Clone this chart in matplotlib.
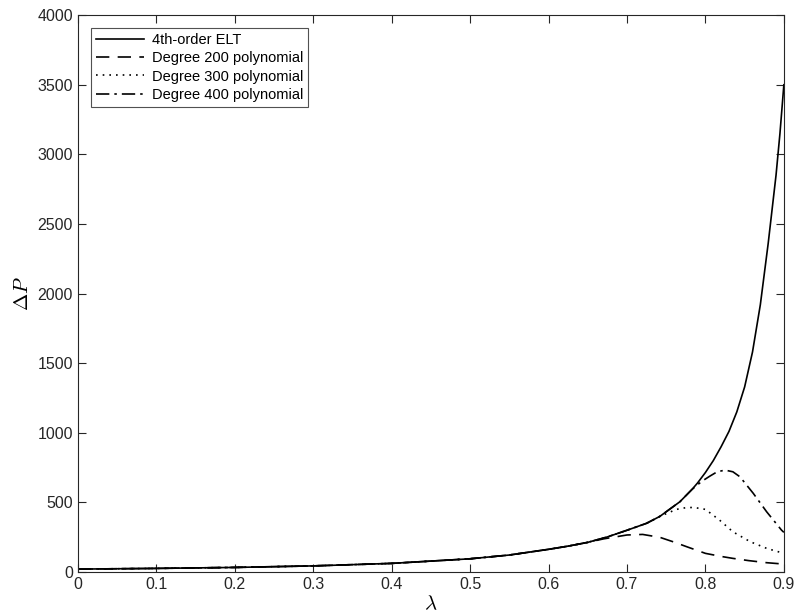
import matplotlib
matplotlib.use('Agg')
import matplotlib.pyplot as plt

# values
lam_elt = [0, 0.1, 0.2, 0.3, 0.4, 0.5, 0.55, 0.6, 0.625, 0.65, 0.675, 0.7, 0.725,
           0.742, 0.7675, 0.783, 0.79, 0.8, 0.81, 0.82, 0.83, 0.84, 0.85, 0.86,
           0.87, 0.88, 0.89, 0.895, 0.9]
dp_elt = [21, 26, 33, 44, 62, 95, 122, 163, 186, 213, 252, 300, 350,
          400, 505, 594, 640, 715, 800, 900, 1010, 1150, 1330, 1580,
          1920, 2360, 2850, 3150, 3500]

lam_200 = [0, 0.1, 0.2, 0.3, 0.4, 0.5, 0.55, 0.6, 0.625, 0.65, 0.67, 0.7, 0.72,
           0.742, 0.76, 0.776, 0.8, 0.82, 0.835, 0.855, 0.878, 0.9]
dp_200 = [21, 26, 33, 44, 62, 95, 122, 163, 186, 213, 238, 266, 270,
          249, 215, 182, 134, 112, 98, 82, 67, 57]

lam_300 = [0, 0.1, 0.2, 0.3, 0.4, 0.5, 0.55, 0.6, 0.625, 0.65, 0.675, 0.7, 0.725,
           0.742, 0.763, 0.775, 0.785, 0.8, 0.818, 0.835, 0.857, 0.878, 0.9]
dp_300 = [21, 26, 33, 44, 62, 95, 122, 163, 186, 213, 252, 300, 350,
          400, 450, 462, 464, 450, 373, 289, 218, 170, 134]

lam_400 = [0, 0.1, 0.2, 0.3, 0.4, 0.5, 0.55, 0.6, 0.625, 0.65, 0.675, 0.7, 0.725,
           0.742, 0.7675, 0.783, 0.795, 0.806, 0.815, 0.825, 0.835, 0.844, 0.861,
           0.878, 0.897, 0.9]
dp_400 = [21, 26, 33, 44, 62, 95, 122, 163, 186, 213, 252, 300, 350,
          400, 505, 594, 650, 690, 720, 732, 720, 684, 565,
          433, 301, 285]

plt.rcParams['font.family'] = ['Liberation Sans', 'DejaVu Sans']
plt.rcParams['mathtext.fontset'] = 'cm'

fig = plt.figure(figsize=(7.95, 6.16), dpi=100)
ax = fig.add_axes([0.098, 0.0714, 0.888, 0.904])

ax.plot(lam_elt, dp_elt, color='black', lw=1.2, ls='-', label='4th-order ELT')
ax.plot(lam_200, dp_200, color='black', lw=1.2, ls=(0, (8, 5)), label='Degree 200 polynomial')
ax.plot(lam_300, dp_300, color='black', lw=1.2, ls=(0, (1, 3)), label='Degree 300 polynomial')
ax.plot(lam_400, dp_400, color='black', lw=1.2, ls=(0, (8, 3, 1.5, 3)), label='Degree 400 polynomial')

ax.set_xlim(0, 0.9)
ax.set_ylim(0, 4000)
ax.set_xticks([0, 0.1, 0.2, 0.3, 0.4, 0.5, 0.6, 0.7, 0.8, 0.9])
ax.set_xticklabels(['0', '0.1', '0.2', '0.3', '0.4', '0.5', '0.6', '0.7', '0.8', '0.9'])
ax.set_yticks(range(0, 4001, 500))

gray = '#262626'
for s in ax.spines.values():
    s.set_color(gray)
    s.set_linewidth(0.8)
ax.tick_params(direction='in', length=6, width=0.8, colors=gray, labelsize=11.5,
               top=True, right=True, labelcolor=gray)

ax.set_xlabel(r'$\lambda$', fontsize=15, labelpad=2)
ax.set_ylabel(r'$\Delta P$', fontsize=15, labelpad=4)

leg = ax.legend(loc='upper left', fontsize=10.5, frameon=True, fancybox=False,
                edgecolor=gray, handlelength=3.3, borderaxespad=0.9,
                labelspacing=0.28, borderpad=0.35, handletextpad=0.5)
leg.get_frame().set_linewidth(0.8)

fig.savefig('out.png', dpi=100)
